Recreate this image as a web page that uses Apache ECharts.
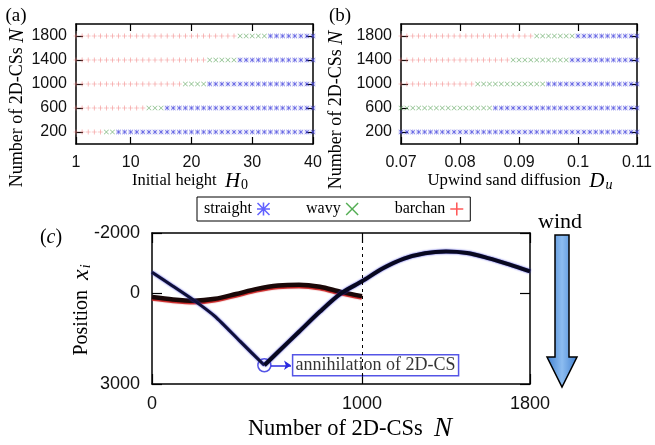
<!DOCTYPE html>
<html lang="en">
<head>
<meta charset="UTF-8">
<title>2D-CS phases</title>
<script src="https://cdn.jsdelivr.net/npm/echarts@6.0.0/dist/echarts.min.js"></script>
<style>
  * { margin: 0; padding: 0 }
  html, body { width: 100%; height: 100%; background: #fff; }
  #main { width: 655px; height: 445px; }
</style>
</head>
<body>
<div id="main"></div>
<script type="text/javascript">
// rows of the phase diagrams (number of 2D-CSs)
var rowsN = [200, 600, 1000, 1400, 1800];

// (a) initial height H0, and where each row turns wavy / straight
var heightValues = [1, 2, 3, 4, 5, 6, 7, 8, 9, 10, 11, 12, 13, 14, 15, 16, 17, 18, 19, 20,
    21, 22, 23, 24, 25, 26, 27, 28, 29, 30, 31, 32, 33, 34, 35, 36, 37, 38, 39, 40];
var heightWavyFrom = [6, 13, 19, 23, 28];
var heightStraightFrom = [8, 16, 23, 28, 33];
var heightTicks = [1, 10, 20, 30, 40];

// (b) upwind sand diffusion Du
var diffValues = [0.070, 0.071, 0.072, 0.073, 0.074, 0.075, 0.076, 0.077, 0.078, 0.079,
    0.080, 0.081, 0.082, 0.083, 0.084, 0.085, 0.086, 0.087, 0.088, 0.089,
    0.090, 0.091, 0.092, 0.093, 0.094, 0.095, 0.096, 0.097, 0.098, 0.099,
    0.100, 0.101, 0.102, 0.103, 0.104, 0.105, 0.106, 0.107, 0.108, 0.109, 0.110];
var diffWavyFrom = [0.070, 0.070, 0.083, 0.089, 0.093];
var diffStraightFrom = [0.070, 0.086, 0.095, 0.099, 0.100];
var diffTicks = [0.07, 0.08, 0.09, 0.1, 0.11];
var rowTicks = [200, 600, 1000, 1400, 1800];

// (c) positions x_i against N
var straightN1 = [0, 100, 200, 300, 420, 535];
var straightX1 = [-700, -240, 230, 760, 1590, 2380];
var straightN2 = [535, 600, 700, 800, 900, 1000, 1100, 1200, 1300, 1400, 1500, 1600, 1700, 1800];
var straightX2 = [2380, 1940, 1270, 600, 0, -400, -830, -1150, -1330, -1390, -1340, -1170, -960, -730];
var barchanN = [0, 100, 200, 300, 400, 500, 600, 700, 800, 900, 1000];
var barchanX = [120, 200, 240, 180, 20, -150, -260, -290, -220, -50, 90];
var annihilation = [535, 2380];
var nTicks = [0, 1000, 1800];
var posTicks = [-2000, 0, 3000];

var PLUS = 'path://M4.4,0H5.6V10H4.4Z M0,4.4H10V5.6H0Z';
var CROSS = 'path://M0.8,0L5,4.2L9.2,0L10,0.8L5.8,5L10,9.2L9.2,10L5,5.8L0.8,10L0,9.2L4.2,5L0,0.8Z';
var STAR = 'path://M4.4,0H5.6V10H4.4Z M0,4.4H10V5.6H0Z M0.8,0L5,4.2L9.2,0L10,0.8L5.8,5L10,9.2L9.2,10L5,5.8L0.8,10L0,9.2L4.2,5L0,0.8Z';

var SERIF = 'Liberation Serif';
var SANS = 'Liberation Sans';

function phasePoints(values, wavyFrom, straightFrom, phase) {
    var pts = [];
    rowsN.forEach(function (n, r) {
        values.forEach(function (v) {
            var p = v < wavyFrom[r] - 1e-9 ? 'barchan' : (v < straightFrom[r] - 1e-9 ? 'wavy' : 'straight');
            if (p === phase) pts.push([v, n]);
        });
    });
    return pts;
}

function zip(xs, ys) {
    return xs.map(function (x, i) { return [x, ys[i]]; });
}

function axis(grid, pos, min, max, ticks, opts) {
    var isMain = pos === 'bottom' || pos === 'left';
    opts = opts || {};
    return {
        type: 'value', gridIndex: grid, position: pos, min: min, max: max,
        inverse: !!opts.inverse,
        axisLine: { onZero: false, lineStyle: { color: '#000', width: 1.5 } },
        axisTick: { inside: true, length: opts.tickLen || 7, customValues: ticks, lineStyle: { color: '#000', width: 1.2 } },
        axisLabel: {
            show: isMain, customValues: ticks, margin: opts.margin || 9,
            fontFamily: SANS, fontSize: opts.fontSize || 16, color: '#111',
            formatter: function (v) { return String(v); }
        },
        splitLine: { show: false }
    };
}

function phaseSeries(x, y, values, wavyFrom, straightFrom) {
    return [
        { name: 'barchan', type: 'scatter', xAxisIndex: x, yAxisIndex: y, symbol: PLUS, symbolSize: 5,
          itemStyle: { color: '#f07575' }, data: phasePoints(values, wavyFrom, straightFrom, 'barchan') },
        { name: 'wavy', type: 'scatter', xAxisIndex: x, yAxisIndex: y, symbol: CROSS, symbolSize: 5,
          itemStyle: { color: '#66aa66' }, data: phasePoints(values, wavyFrom, straightFrom, 'wavy') },
        { name: 'straight', type: 'scatter', xAxisIndex: x, yAxisIndex: y, symbol: STAR, symbolSize: 5,
          itemStyle: { color: '#4444dd' }, data: phasePoints(values, wavyFrom, straightFrom, 'straight') }
    ];
}

function label(x, y, text, size, rot, rich) {
    return {
        type: 'text', x: x, y: y, rotation: rot || 0, silent: true,
        style: {
            text: text, fill: '#000', align: 'center', verticalAlign: 'middle',
            font: size + 'px "' + SERIF + '"', rich: rich
        }
    };
}

function mathRich(text, size, subSize) {
    return {
        t: { fontFamily: SERIF, fontSize: text, color: '#000' },
        i: { fontFamily: SERIF, fontStyle: 'italic', fontSize: size, color: '#000' },
        s: { fontFamily: SERIF, fontStyle: 'italic', fontSize: subSize, color: '#000', padding: [9, 0, 0, 1] },
        n: { fontFamily: SERIF, fontSize: subSize, color: '#000', padding: [9, 0, 0, 1] }
    };
}

var myChart = echarts.init(document.getElementById('main'));

var option = {
    animation: false,
    grid: [
        { left: 76, top: 24, width: 237, height: 120 },
        { left: 401, top: 24, width: 237, height: 120 },
        { left: 152, top: 233, width: 378, height: 151 }
    ],
    xAxis: [
        axis(0, 'bottom', 1, 40, heightTicks, { margin: 11 }),
        axis(0, 'top', 1, 40, heightTicks),
        axis(1, 'bottom', 0.07, 0.11, diffTicks, { margin: 11 }),
        axis(1, 'top', 0.07, 0.11, diffTicks),
        axis(2, 'bottom', 0, 1800, nTicks, { fontSize: 18, margin: 11, tickLen: 10 }),
        axis(2, 'top', 0, 1800, nTicks, { tickLen: 10 })
    ],
    yAxis: [
        axis(0, 'left', 0, 2000, rowTicks),
        axis(0, 'right', 0, 2000, rowTicks),
        axis(1, 'left', 0, 2000, rowTicks),
        axis(1, 'right', 0, 2000, rowTicks),
        axis(2, 'left', -2000, 3000, posTicks, { inverse: true, fontSize: 18, margin: 12, tickLen: 10 }),
        axis(2, 'right', -2000, 3000, posTicks, { inverse: true, tickLen: 10 })
    ],
    legend: {
        left: 197, top: 197, align: 'right', itemGap: 36, itemWidth: 13, itemHeight: 13,
        padding: [4, 7], borderColor: '#000', borderWidth: 1, selectedMode: false,
        textStyle: { fontFamily: SERIF, fontSize: 16, color: '#000' },
        data: [
            { name: 'straight', icon: STAR, itemStyle: { color: '#3a3aff' } },
            { name: 'wavy', icon: CROSS, itemStyle: { color: '#2a9a2a' } },
            { name: 'barchan', icon: PLUS, itemStyle: { color: '#ff3030' } }
        ]
    },
    series: phaseSeries(0, 0, heightValues, heightWavyFrom, heightStraightFrom)
        .concat(phaseSeries(2, 2, diffValues, diffWavyFrom, diffStraightFrom))
        .concat([
            {
                name: 'barchan', type: 'line', xAxisIndex: 4, yAxisIndex: 4, showSymbol: false, smooth: 0.3,
                lineStyle: { color: '#1a0808', width: 4.5, shadowColor: '#c82020', shadowBlur: 1, shadowOffsetY: 1.5 },
                data: zip(barchanN, barchanX),
                markLine: {
                    silent: true, symbol: 'none', label: { show: false },
                    lineStyle: { color: '#000', type: [3, 4], width: 1 },
                    data: [{ xAxis: 1000 }]
                }
            },
            {
                name: 'straight', type: 'line', xAxisIndex: 4, yAxisIndex: 4, showSymbol: false, smooth: 0.2,
                lineStyle: { color: '#101038', width: 3, shadowColor: '#3030d0', shadowBlur: 2 },
                data: zip(straightN1, straightX1)
            },
            {
                name: 'straight', type: 'line', xAxisIndex: 4, yAxisIndex: 4, showSymbol: false, smooth: 0.3,
                lineStyle: { color: '#080820', width: 4, shadowColor: '#3030d0', shadowBlur: 2 },
                data: zip(straightN2, straightX2)
            },
            {
                name: 'annihilation', type: 'scatter', xAxisIndex: 4, yAxisIndex: 4,
                symbol: 'circle', symbolSize: 13,
                itemStyle: { color: 'rgba(0,0,0,0)', borderColor: '#2a2ae0', borderWidth: 1.5 },
                label: {
                    show: true, position: 'right', distance: 21, formatter: 'annihilation of 2D-CS',
                    fontFamily: SERIF, fontSize: 18, color: '#000',
                    borderColor: '#2a2ae0', borderWidth: 1.5, padding: [2, 3, 1, 3]
                },
                markLine: {
                    silent: true, symbol: ['none', 'arrow'], symbolSize: 7, label: { show: false },
                    lineStyle: { color: '#2a2ae0', type: 'solid', width: 1.5 },
                    data: [[{ coord: [annihilation[0] + 31, annihilation[1]] }, { coord: [annihilation[0] + 127, annihilation[1]] }]]
                },
                data: [annihilation]
            }
        ]),
    graphic: [
        label(16, 16, '(a)', 19),
        label(340, 16, '(b)', 19),
        label(51, 238, '({i|c})', 20, 0, mathRich(20, 20, 14)),
        label(17, 108, '{t|Number of 2D-CSs} {i|N}', 18, Math.PI / 2, mathRich(18, 21, 14)),
        label(336, 110, '{t|Number of 2D-CSs} {i|N}', 18, Math.PI / 2, mathRich(18, 21, 14)),
        label(190, 181, '{t|Initial height}  {i|H}{n|0}', 16.5, 0, mathRich(16.5, 21, 14)),
        label(520, 181, '{t|Upwind sand diffusion}  {i|D}{s|u}', 16.8, 0, mathRich(16.8, 21, 14)),
        label(350, 429, '{t|Number of 2D-CSs}  {i|N}', 22.5, 0, mathRich(22.5, 27, 16)),
        label(82, 310, '{t|Position}  {i|x}{s|i}', 20, Math.PI / 2, mathRich(20, 24, 14)),
        label(560, 222, 'wind', 22),
        {
            type: 'polygon', silent: true,
            shape: { points: [[555, 235], [569, 235], [569, 357], [577, 357], [562, 387], [547, 357], [555, 357]] },
            style: {
                fill: new echarts.graphic.LinearGradient(0, 0, 1, 0, [
                    { offset: 0, color: '#3f7fd0' },
                    { offset: 0.5, color: '#8cbcf0' },
                    { offset: 1, color: '#3f7fd0' }
                ]),
                stroke: '#000', lineWidth: 1.5
            }
        }
    ]
};

myChart.setOption(option);
</script>
</body>
</html>
